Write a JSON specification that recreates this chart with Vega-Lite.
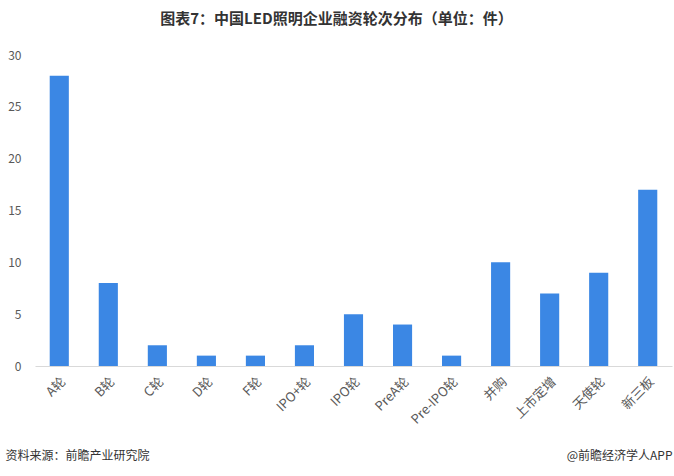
{
  "$schema": "https://vega.github.io/schema/vega-lite/v6.json",
  "width": 637,
  "height": 311,
  "autosize": "none",
  "padding": {"left": 35, "top": 55, "right": 2, "bottom": 110},
  "background": "white",
  "config": {"view": {"stroke": null}, "font": "Noto Sans CJK SC"},
  "title": {
    "text": "图表7：中国LED照明企业融资轮次分布（单位：件）",
    "fontSize": 15,
    "fontWeight": "bold",
    "color": "#333333",
    "anchor": "middle",
    "dx": -17,
    "offset": 22
  },
  "data": {
    "values": [
      {"round": "A轮", "count": 28},
      {"round": "B轮", "count": 8},
      {"round": "C轮", "count": 2},
      {"round": "D轮", "count": 1},
      {"round": "F轮", "count": 1},
      {"round": "IPO+轮", "count": 2},
      {"round": "IPO轮", "count": 5},
      {"round": "PreA轮", "count": 4},
      {"round": "Pre-IPO轮", "count": 1},
      {"round": "并购", "count": 10},
      {"round": "上市定增", "count": 7},
      {"round": "天使轮", "count": 9},
      {"round": "新三板", "count": 17}
    ]
  },
  "mark": {"type": "bar", "color": "#3b87e4"},
  "encoding": {
    "x": {
      "field": "round",
      "type": "nominal",
      "sort": null,
      "scale": {"paddingInner": 0.61, "paddingOuter": 0.3},
      "axis": {
        "title": "资料来源：前瞻产业研究院",
        "titleFontSize": 12,
        "titleFontWeight": "normal",
        "titleColor": "#333333",
        "titleAnchor": null,
        "titleAlign": "left",
        "titleBaseline": "middle",
        "titleX": -30,
        "titleY": 89,
        "labelAngle": -45,
        "labelFontSize": 13,
        "labelColor": "#595959",
        "labelPadding": 9,
        "ticks": false,
        "domainColor": "#d9d9d9",
        "grid": false
      }
    },
    "y": {
      "field": "count",
      "type": "quantitative",
      "scale": {"domain": [0, 30]},
      "axis": {
        "values": [0, 5, 10, 15, 20, 25, 30],
        "title": "@前瞻经济学人APP",
        "titleAngle": 0,
        "titleFontSize": 12,
        "titleFontWeight": "normal",
        "titleColor": "#333333",
        "titleAlign": "right",
        "titleBaseline": "middle",
        "titleAnchor": null,
        "titleX": 637,
        "titleY": 400,
        "labelFontSize": 12,
        "labelColor": "#595959",
        "labelPadding": 14,
        "ticks": false,
        "domain": false,
        "grid": false
      }
    }
  }
}
